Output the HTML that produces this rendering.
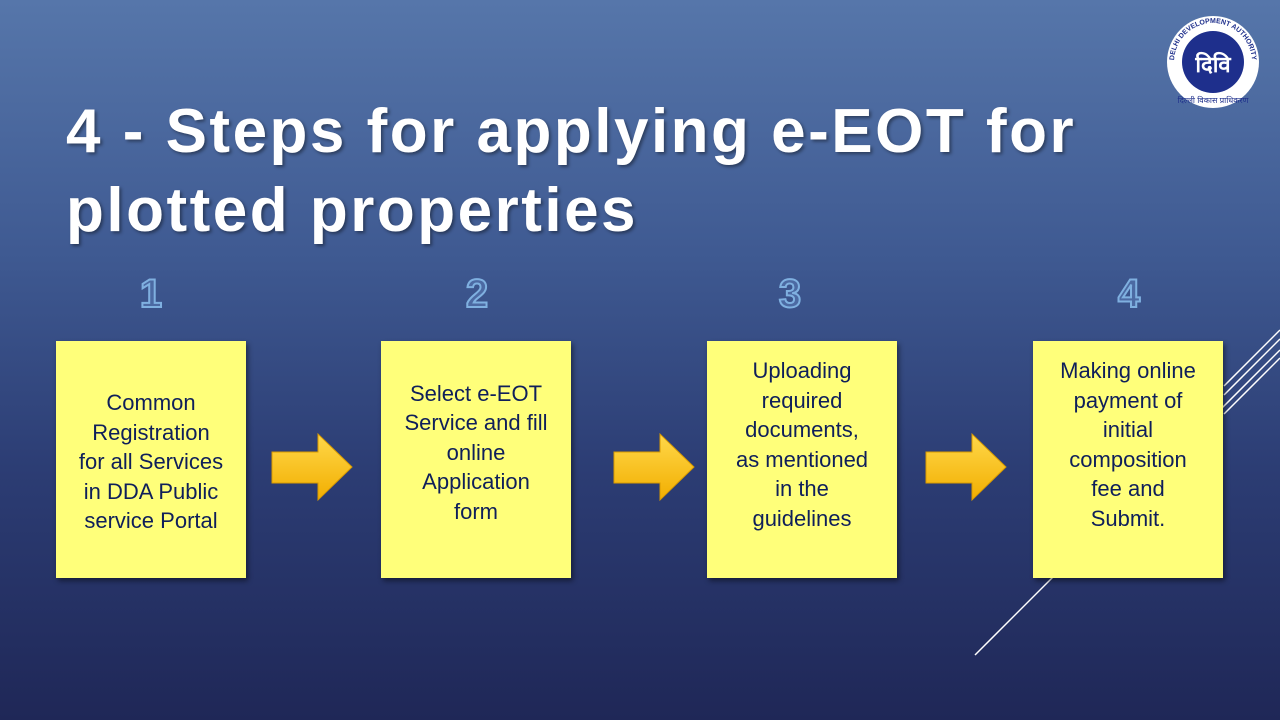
<!DOCTYPE html>
<html><head><meta charset="utf-8"><style>
body{margin:0;width:1280px;height:720px;overflow:hidden;font-family:"Liberation Sans",sans-serif;}
.bg{position:absolute;inset:0;background:linear-gradient(180deg,#5676aa 0%,#3f5a92 35%,#2c3d74 65%,#1f2757 100%);}
h1{position:absolute;left:66px;top:92px;margin:0;color:#fff;font-size:62px;line-height:79px;font-weight:bold;letter-spacing:2.5px;text-shadow:2px 2px 3px rgba(0,0,0,.4);font-family:"Liberation Sans",sans-serif;}
.num{position:absolute;top:272px;width:60px;text-align:center;font-size:40px;font-weight:bold;color:#4c6aa3;-webkit-text-stroke:2px #7fb0e0;}
.box{position:absolute;top:341px;width:190px;height:237px;background:#ffff7a;box-shadow:2px 3px 5px rgba(0,0,0,.45);display:flex;align-items:center;justify-content:center;text-align:center;color:#0f1f5a;font-size:22px;line-height:29.5px;}
.box div{margin-top:-14px}
svg{position:absolute;left:0;top:0}
</style></head><body>
<div class="bg"></div>
<svg width="1280" height="720">
<g stroke="#fff" stroke-width="1.5" fill="none">
<line x1="975" y1="655" x2="1280" y2="350"/>
<line x1="1224" y1="386" x2="1280" y2="330"/>
<line x1="1224" y1="395" x2="1280" y2="339"/>
<line x1="1224" y1="414" x2="1280" y2="358"/>
</g>
<defs><linearGradient id="ag" x1="0" y1="0" x2="0" y2="1"><stop offset="0" stop-color="#ffd84a"/><stop offset="1" stop-color="#f2ae00"/></linearGradient></defs>
<g fill="url(#ag)" stroke="#d99a00" stroke-width="1">
<polygon points="272,452 318,452 318,434 352,467 318,500 318,483 272,483"/>
<polygon points="614,452 660,452 660,434 694,467 660,500 660,483 614,483"/>
<polygon points="926,452 972,452 972,434 1006,467 972,500 972,483 926,483"/>
</g>
<circle cx="1213" cy="62" r="46" fill="#fff"/>
<circle cx="1213" cy="62" r="31" fill="#1e2f8c"/>
<path id="arc" d="M1174,62 A39,39 0 0,1 1252,62" fill="none"/>
<text font-size="7" font-weight="bold" fill="#1e2f8c"><textPath href="#arc" startOffset="50%" text-anchor="middle">DELHI DEVELOPMENT AUTHORITY</textPath></text>
<text x="1213" y="72" font-size="22" fill="#fff" text-anchor="middle" font-weight="bold">दिवि</text>
<text x="1213" y="103" font-size="8" fill="#1e2f8c" text-anchor="middle">दिल्ली विकास प्राधिकरण</text>
</svg>
<h1>4 - Steps for applying e-EOT for<br>plotted properties</h1>
<div class="num" style="left:121px">1</div>
<div class="num" style="left:447px">2</div>
<div class="num" style="left:760px">3</div>
<div class="num" style="left:1099px">4</div>
<div class="box" style="left:56px"><div style="margin-top:5px">Common<br>Registration<br>for all Services<br>in DDA Public<br>service Portal</div></div>
<div class="box" style="left:381px"><div>Select e-EOT<br>Service and fill<br>online<br>Application<br>form</div></div>
<div class="box" style="left:707px"><div style="margin-top:-30px">Uploading<br>required<br>documents,<br>as mentioned<br>in the<br>guidelines</div></div>
<div class="box" style="left:1033px"><div style="margin-top:-30px">Making online<br>payment of<br>initial<br>composition<br>fee and<br>Submit.</div></div>
</body></html>
